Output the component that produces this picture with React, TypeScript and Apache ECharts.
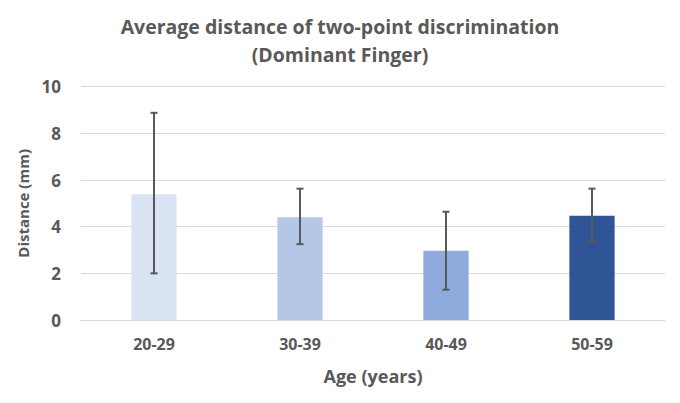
import React, { useEffect, useRef } from "react";
import * as echarts from "echarts";

const categories = ["20-29", "30-39", "40-49", "50-59"];
const means = [5.39, 4.4, 2.97, 4.47];
const errLow = [2.0, 3.25, 1.3, 3.38];
const errHigh = [8.88, 5.63, 4.64, 5.63];
const barColors = ["#DAE3F3", "#B4C7E7", "#8FAADC", "#2F5597"];
const yTicks = { min: 0, max: 10, interval: 2 };

const FONT = "'Open Sans', 'Noto Sans', sans-serif";
const GREY = "#595959";

export default function App() {
  const ref = useRef<HTMLDivElement>(null);
  useEffect(() => {
    const chart = echarts.init(ref.current!, undefined, { renderer: "svg" });
    chart.setOption({
      animation: false,
      backgroundColor: "#ffffff",
      title: {
        text: "Average distance of two-point discrimination\n(Dominant Finger)",
        left: "center",
        top: 7,
        textStyle: {
          fontFamily: FONT,
          fontSize: 19.5,
          fontWeight: "bold",
          color: GREY,
          lineHeight: 28,
        },
      },
      grid: { left: 81, right: 15, top: 86.7, bottom: 83 },
      xAxis: {
        type: "category",
        data: categories,
        name: "Age (years)",
        nameLocation: "middle",
        nameGap: 47,
        nameTextStyle: { fontFamily: FONT, fontSize: 18, fontWeight: "bold", color: GREY },
        axisLine: { lineStyle: { color: "#D9D9D9", width: 1 } },
        axisTick: { show: false },
        axisLabel: { fontFamily: FONT, fontSize: 16, fontWeight: "bold", color: GREY, margin: 16 },
      },
      yAxis: {
        type: "value",
        min: yTicks.min,
        max: yTicks.max,
        interval: yTicks.interval,
        name: "Distance (mm)",
        nameLocation: "middle",
        nameGap: 50,
        nameTextStyle: { fontFamily: FONT, fontSize: 15, fontWeight: "bold", color: GREY },
        axisLine: { show: false },
        axisTick: { show: false },
        splitLine: { lineStyle: { color: "#D9D9D9", width: 1 } },
        axisLabel: { fontFamily: FONT, fontSize: 17, fontWeight: "bold", color: GREY, margin: 20 },
      },
      series: [
        {
          type: "bar",
          barWidth: "31%",
          data: means.map((v, i) => ({ value: v, itemStyle: { color: barColors[i] } })),
        },
        {
          type: "custom",
          z: 10,
          data: categories.map((_, i) => [i, errLow[i], errHigh[i]]),
          renderItem: (params: any, api: any) => {
            const x = api.value(0);
            const lo = api.coord([x, api.value(1)]);
            const hi = api.coord([x, api.value(2)]);
            const half = 3.5;
            const style = { stroke: GREY, lineWidth: 2, fill: "none" };
            return {
              type: "group",
              children: [
                { type: "line", shape: { x1: lo[0], y1: lo[1], x2: hi[0], y2: hi[1] }, style },
                { type: "line", shape: { x1: lo[0] - half, y1: lo[1], x2: lo[0] + half, y2: lo[1] }, style },
                { type: "line", shape: { x1: hi[0] - half, y1: hi[1], x2: hi[0] + half, y2: hi[1] }, style },
              ],
            };
          },
        },
      ],
    });
    return () => chart.dispose();
  }, []);
  return <div ref={ref} style={{ width: 680, height: 403, position: "absolute", left: 0, top: 0 }} />;
}
